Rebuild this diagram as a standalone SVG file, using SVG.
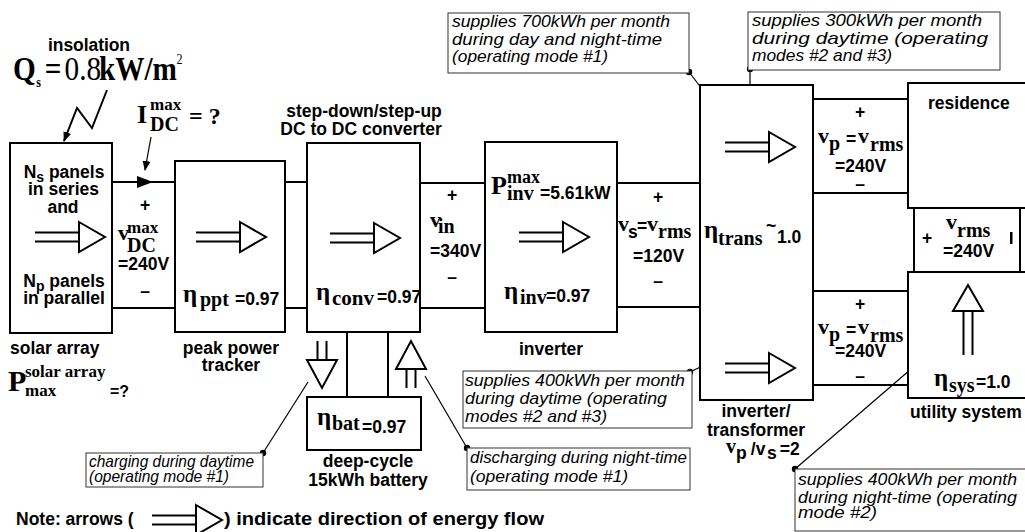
<svg xmlns="http://www.w3.org/2000/svg" xmlns:xlink="http://www.w3.org/1999/xlink" width="1025" height="532" viewBox="0 0 1025 532">
<style>
.bx{fill:#fff;stroke:#000;stroke-width:2}
.w{stroke:#000;stroke-width:2;fill:none}
.ld{stroke:#000;stroke-width:1.2;fill:none}
.cb{fill:#fff;stroke:#333;stroke-width:1}
.s{font-family:"Liberation Sans",Arial,sans-serif;font-weight:bold;font-size:17.5px;fill:#000}
.r{font-family:"Liberation Serif","Times New Roman",serif;font-weight:bold;fill:#000}
.i{font-family:"Liberation Sans",Arial,sans-serif;font-style:italic;font-size:16.5px;fill:#000}
.m{text-anchor:middle}
.e{font-size:25px}
.b{font-size:20px}
.p{font-size:20px}
</style>
<defs>
<g id="ar"><path d="M-70,-4.5H-26M-70,4.5H-26" stroke="#000" stroke-width="2"/><polygon points="-26,-15 0,0 -26,15" fill="#fff" stroke="#000" stroke-width="2"/></g>
<g id="ars"><path d="M-47,-4.5H-28M-47,4.5H-28" stroke="#000" stroke-width="2"/><polygon points="-28,-15 0,0 -28,15" fill="#fff" stroke="#000" stroke-width="2"/></g>
<marker id="ah" markerWidth="10" markerHeight="10" refX="9" refY="5" orient="auto" markerUnits="userSpaceOnUse"><path d="M0,1L10,5L0,9z" fill="#000"/></marker>
<marker id="dot" markerWidth="8" markerHeight="8" refX="4" refY="4" markerUnits="userSpaceOnUse"><circle cx="4" cy="4" r="3.2" fill="#000"/></marker>
</defs>

<g id="connectors">
<path class="w" d="M112,182H175M112,308H175M285,182H307M285,308H307M420,183H485M420,308H485M617,183H700M617,307H700M813,99H908M813,193H908M813,291H908M813,385H908M914,208V272M1020,208V272M347,332V397M388,332V397"/>
<polygon points="137,176 153,182 137,188" fill="#000"/>
<polyline class="w" points="107,90 92,128 77,108 64,141" marker-end="url(#ah)"/>
<line class="ld" x1="151" y1="137" x2="145" y2="170" marker-end="url(#ah)"/>
<line class="ld" x1="689" y1="72" x2="738" y2="136" marker-start="url(#dot)"/>
<line class="ld" x1="750" y1="69" x2="750" y2="135" marker-start="url(#dot)"/>
<line class="ld" x1="690" y1="372" x2="742" y2="347" marker-start="url(#dot)"/>
<line class="ld" x1="263" y1="453" x2="308" y2="382" marker-start="url(#dot)"/>
<line class="ld" x1="467" y1="448" x2="425" y2="376" marker-start="url(#dot)"/>
<line class="ld" x1="795" y1="469" x2="961" y2="326" marker-start="url(#dot)"/>
</g>

<g id="solar">
<rect class="bx" x="10" y="143" width="102" height="190"/>
<use xlink:href="#ar" href="#ar" transform="translate(105,237)"/>
<text class="s m" x="64" y="178">N<tspan font-size="14" dy="4">s</tspan><tspan dy="-4"> panels</tspan></text>
<text class="s m" x="63.5" y="195">in series</text>
<text class="s m" x="63" y="213">and</text>
<text class="s m" x="64" y="287">N<tspan font-size="14" dy="4">p</tspan><tspan dy="-4"> panels</tspan></text>
<text class="s m" x="64" y="304">in parallel</text>
<text class="s" x="10" y="354">solar array</text>
<text class="r"><tspan x="8" y="391" font-size="30">P</tspan><tspan x="25" y="377" font-size="17">solar array</tspan><tspan x="25" y="396" font-size="17">max</tspan><tspan x="110" y="397" font-family="Liberation Sans, Arial, sans-serif" font-size="16">=?</tspan></text>
</g>

<g id="insolation">
<text class="s" x="48" y="51" font-size="16" textLength="82">insolation</text>
<text class="r" font-size="34" transform="translate(13,80) scale(0.86,1)"><tspan x="0" y="0">Q</tspan><tspan x="27" y="7" font-size="14">s</tspan><tspan x="37" y="0">=</tspan><tspan x="60" y="0" font-weight="normal">0.8</tspan><tspan x="100" y="0">kW/m</tspan><tspan x="190" y="-16" font-size="14" font-weight="normal">2</tspan></text>
</g>

<g id="idc">
<text class="r"><tspan x="137" y="123" font-size="26">I</tspan><tspan x="150" y="110" font-size="17">max</tspan><tspan x="150" y="131" font-size="20">DC</tspan><tspan x="189" y="124" font-size="24">= ?</tspan></text>
</g>

<g id="vdc">
<text class="s m" x="145" y="211" font-size="20">+</text>
<text class="r"><tspan x="118" y="240" font-size="22">v</tspan><tspan x="127" y="233" font-size="17">max</tspan><tspan x="127" y="252" font-size="20">DC</tspan></text>
<text class="s" x="118" y="270">=240V</text>
<text class="s m" x="145" y="297" font-size="18">–</text>
</g>

<g id="ppt">
<rect class="bx" x="175" y="161" width="110" height="171"/>
<use xlink:href="#ar" href="#ar" transform="translate(266,237)"/>
<text class="r"><tspan x="183" y="302" class="e">η</tspan><tspan x="200" y="306" class="b">ppt</tspan><tspan x="235" y="305" class="s" font-size="17">=0.97</tspan></text>
<text class="s m" x="231" y="354">peak power</text>
<text class="s m" x="231" y="371">tracker</text>
</g>

<g id="converter">
<rect class="bx" x="307" y="143" width="113" height="189"/>
<use xlink:href="#ar" href="#ar" transform="translate(400,238)"/>
<text class="s m" x="364" y="117">step-down/step-up</text>
<text class="s m" x="361" y="135">DC to DC converter</text>
<text class="r"><tspan x="316" y="300" class="e">η</tspan><tspan x="332" y="305" font-size="21">conv</tspan><tspan x="377" y="303" class="s" font-size="17">=0.97</tspan></text>
</g>

<g id="vin">
<text class="s m" x="452" y="201" font-size="20">+</text>
<text class="r"><tspan x="430" y="227" font-size="22">v</tspan><tspan x="438" y="233" class="b">in</tspan></text>
<text class="s" x="430" y="257">=340V</text>
<text class="s m" x="452" y="283" font-size="18">–</text>
</g>

<g id="battery">
<rect class="bx" x="307" y="397" width="114" height="53"/>
<use xlink:href="#ars" href="#ars" transform="translate(322,388) rotate(90)"/>
<use xlink:href="#ars" href="#ars" transform="translate(411,341) rotate(-90)"/>
<text class="r"><tspan x="317" y="425" class="e">η</tspan><tspan x="332" y="430" class="b">bat</tspan><tspan x="362" y="433" class="s" font-size="17">=0.97</tspan></text>
<text class="s m" x="368" y="467">deep-cycle</text>
<text class="s m" x="368" y="486">15kWh battery</text>
</g>

<g id="inverter">
<rect class="bx" x="485" y="142" width="132" height="190"/>
<use xlink:href="#ar" href="#ar" transform="translate(589,237)"/>
<text class="r"><tspan x="491" y="194" font-size="26">P</tspan><tspan x="507" y="183" font-size="18">max</tspan><tspan x="507" y="200" class="b">inv</tspan><tspan x="540" y="199" class="s" font-size="17">=5.61kW</tspan></text>
<text class="r"><tspan x="504" y="299" class="e">η</tspan><tspan x="520" y="304" class="b">inv</tspan><tspan x="546" y="302" class="s" font-size="17">=0.97</tspan></text>
<text class="s m" x="551" y="355">inverter</text>
</g>

<g id="vs">
<text class="s m" x="658" y="203" font-size="20">+</text>
<text class="r"><tspan x="618" y="231" font-size="22">v</tspan><tspan x="628" y="238" class="s" font-size="15">s</tspan><tspan x="637" y="232" class="s" font-size="15">=</tspan><tspan x="647" y="231" font-size="22">v</tspan><tspan x="658" y="238" class="b">rms</tspan></text>
<text class="s" x="633" y="262">=120V</text>
<text class="s m" x="658" y="287" font-size="18">–</text>
</g>

<g id="transformer">
<rect class="bx" x="700" y="85" width="113" height="315"/>
<use xlink:href="#ar" href="#ar" transform="translate(795,147)"/>
<use xlink:href="#ar" href="#ar" transform="translate(795,368)"/>
<text class="r"><tspan x="704" y="238" class="e">η</tspan><tspan x="718" y="245" class="b">trans</tspan><tspan x="766" y="232" class="s" font-size="13">~</tspan><tspan x="777" y="243" class="s" font-size="17">1.0</tspan></text>
<text class="s m" x="756" y="417">inverter/</text>
<text class="s m" x="756" y="436">transformer</text>
<text class="r"><tspan x="726" y="453" font-size="20">v</tspan><tspan x="736" y="459" class="s" font-size="13">p</tspan><tspan x="746" y="455" class="s"> /v</tspan><tspan x="767" y="459" class="s" font-size="13">s</tspan><tspan x="775" y="455" class="s"> =2</tspan></text>
</g>

<g id="vp1">
<text class="s m" x="860" y="118" font-size="20">+</text>
<text class="r"><tspan x="818" y="143" font-size="22">v</tspan><tspan x="829" y="150" class="p">p</tspan><tspan x="846" y="145" class="s" font-size="15">=</tspan><tspan x="858" y="143" font-size="22">v</tspan><tspan x="870" y="151" class="b">rms</tspan></text>
<text class="s" x="835" y="172">=240V</text>
<text class="s m" x="860" y="190" font-size="18">–</text>
</g>

<g id="vp2">
<text class="s m" x="860" y="310" font-size="20">+</text>
<text class="r"><tspan x="818" y="334" font-size="22">v</tspan><tspan x="829" y="341" class="p">p</tspan><tspan x="846" y="336" class="s" font-size="15">=</tspan><tspan x="858" y="334" font-size="22">v</tspan><tspan x="870" y="342" class="b">rms</tspan></text>
<text class="s" x="835" y="357">=240V</text>
<text class="s m" x="860" y="382" font-size="18">–</text>
</g>

<g id="residence">
<rect class="bx" x="908" y="83" width="130" height="125"/>
<text class="s" x="928" y="109">residence</text>
</g>

<g id="vrms">
<text class="s m" x="927" y="244" font-size="20">+</text>
<text class="r"><tspan x="946" y="229" font-size="22">v</tspan><tspan x="957" y="237" class="b">rms</tspan></text>
<text class="s" x="943" y="257" font-size="17">=240V</text>
<rect x="1010" y="232" width="2.5" height="12" fill="#000"/>
</g>

<g id="utility">
<rect class="bx" x="908" y="272" width="130" height="126"/>
<use xlink:href="#ar" href="#ar" transform="translate(968,285) rotate(-90)"/>
<text class="r"><tspan x="934" y="386" class="e">η</tspan><tspan x="949" y="392" class="b">sys</tspan><tspan x="976" y="388" class="s" font-size="17">=1.0</tspan></text>
<text class="s" x="910" y="418">utility system</text>
</g>

<g id="callout1">
<rect class="cb" x="448" y="13" width="241" height="60"/>
<text class="i" x="452" y="27" textLength="218" lengthAdjust="spacingAndGlyphs">supplies 700kWh per month</text>
<text class="i" x="452" y="44.5" textLength="210" lengthAdjust="spacingAndGlyphs">during day and night-time</text>
<text class="i" x="452" y="62" textLength="156" lengthAdjust="spacingAndGlyphs">(operating mode #1)</text>
</g>

<g id="callout2">
<rect class="cb" x="748" y="12" width="252" height="58"/>
<text class="i" x="752" y="26" textLength="230" lengthAdjust="spacingAndGlyphs">supplies 300kWh per month</text>
<text class="i" x="752" y="43.5" textLength="236" lengthAdjust="spacingAndGlyphs">during daytime (operating</text>
<text class="i" x="752" y="61" textLength="140" lengthAdjust="spacingAndGlyphs">modes #2 and #3)</text>
</g>

<g id="callout3">
<rect class="cb" x="463" y="371" width="229" height="57"/>
<text class="i" x="465" y="386" textLength="220" lengthAdjust="spacingAndGlyphs">supplies 400kWh per month</text>
<text class="i" x="465" y="404" textLength="202" lengthAdjust="spacingAndGlyphs">during daytime (operating</text>
<text class="i" x="465" y="422" textLength="142" lengthAdjust="spacingAndGlyphs">modes #2 and #3)</text>
</g>

<g id="callout4">
<rect class="cb" x="86" y="453" width="177" height="34"/>
<text class="i" x="89" y="467" font-size="14.5" textLength="165" lengthAdjust="spacingAndGlyphs">charging during daytime</text>
<text class="i" x="89" y="482" font-size="14.5" textLength="140" lengthAdjust="spacingAndGlyphs">(operating mode #1)</text>
</g>

<g id="callout5">
<rect class="cb" x="467" y="448" width="223" height="42"/>
<text class="i" x="470" y="463" font-size="15.5" textLength="217" lengthAdjust="spacingAndGlyphs">discharging during night-time</text>
<text class="i" x="470" y="482" font-size="15.5" textLength="158" lengthAdjust="spacingAndGlyphs">(operating mode #1)</text>
</g>

<g id="callout6">
<rect class="cb" x="795" y="469" width="240" height="62"/>
<text class="i" x="798" y="485" textLength="219" lengthAdjust="spacingAndGlyphs">supplies 400kWh per month</text>
<text class="i" x="798" y="503" textLength="219" lengthAdjust="spacingAndGlyphs">during night-time (operating</text>
<text class="i" x="798" y="518" textLength="79" lengthAdjust="spacingAndGlyphs"> mode #2)</text>
</g>

<g id="note">
<text class="s" x="16" y="525" font-size="18">Note: arrows  (</text>
<use xlink:href="#ar" href="#ar" transform="translate(222,520)"/>
<text class="s" x="224" y="525" font-size="18" textLength="320" lengthAdjust="spacingAndGlyphs">) indicate direction of energy flow</text>
</g>
</svg>
